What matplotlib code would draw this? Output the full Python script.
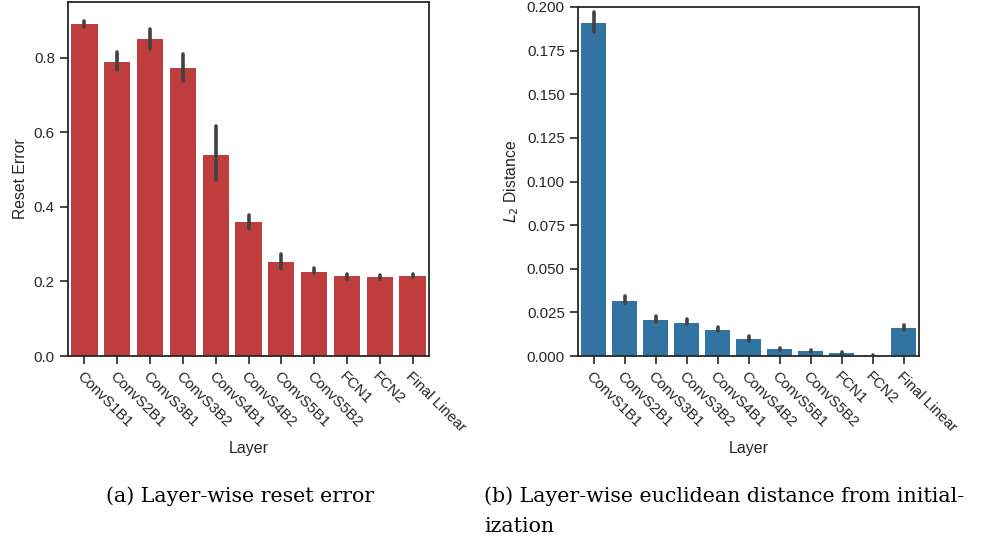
import matplotlib
matplotlib.use("Agg")
import matplotlib.pyplot as plt
import seaborn as sns
import numpy as np

layers = ["ConvS1B1", "ConvS2B1", "ConvS3B1", "ConvS3B2", "ConvS4B1", "ConvS4B2",
          "ConvS5B1", "ConvS5B2", "FCN1", "FCN2", "Final Linear"]

reset_error = [0.890, 0.790, 0.850, 0.772, 0.540, 0.359, 0.252, 0.226, 0.214, 0.212, 0.214]
reset_lo = [0.882, 0.768, 0.825, 0.739, 0.471, 0.342, 0.234, 0.222, 0.207, 0.206, 0.211]
reset_hi = [0.899, 0.817, 0.878, 0.811, 0.616, 0.379, 0.274, 0.237, 0.220, 0.218, 0.221]

l2_dist = [0.1908, 0.0317, 0.0208, 0.0191, 0.0149, 0.0096, 0.0038, 0.0027, 0.0017, 0.0002, 0.0159]
l2_lo = [0.1856, 0.0306, 0.0197, 0.0184, 0.0142, 0.0088, 0.0033, 0.0022, 0.0012, 0.0000, 0.0149]
l2_hi = [0.1973, 0.0344, 0.0231, 0.0210, 0.0165, 0.0117, 0.0047, 0.0035, 0.0024, 0.0008, 0.0178]

sns.set_theme(style="ticks")
plt.rcParams['font.family'] = ['Liberation Sans', 'DejaVu Sans']

fig = plt.figure(figsize=(9.85, 5.42), dpi=100)
W, H = 985, 542
axA = fig.add_axes([68 / W, 1 - 356 / H, (429 - 68) / W, (356 - 2) / H])
axB = fig.add_axes([578 / W, 1 - 356 / H, (919 - 578) / W, (356 - 7) / H])

red = sns.desaturate("tab:red", 0.75)
blue = sns.desaturate("tab:blue", 0.75)


def draw(ax, vals, lo, hi, color, ylabel, ylim, yticks, fmt):
    x = np.arange(len(layers))
    ax.bar(x, vals, width=0.8, color=color, edgecolor='none', zorder=2)
    ax.vlines(x, lo, hi, color="#424242", linewidth=2.6, capstyle='round', zorder=3)
    ax.set_xlim(-0.5, len(layers) - 0.5)
    ax.set_ylim(*ylim)
    ax.set_yticks(yticks)
    ax.set_yticklabels([fmt.format(v) for v in yticks], fontsize=10.8)
    ax.set_xticks(x)
    ax.set_xticklabels(layers, rotation=-45, ha='left', rotation_mode='anchor', fontsize=10.8)
    ax.tick_params(axis='both', length=6, width=1.2, color='#262626', labelcolor='#262626')
    ax.set_xlabel("Layer", fontsize=11.5, color='#262626', labelpad=4.5)
    ax.set_ylabel(ylabel, fontsize=11.3, color='#262626')
    for s in ax.spines.values():
        s.set_linewidth(1.3)
        s.set_color('#262626')


draw(axA, reset_error, reset_lo, reset_hi, red, "Reset Error", (0, 0.95),
     [0.0, 0.2, 0.4, 0.6, 0.8], "{:.1f}")
draw(axB, l2_dist, l2_lo, l2_hi, blue, "$L_2$ Distance", (0, 0.2),
     [0.0, 0.025, 0.05, 0.075, 0.1, 0.125, 0.15, 0.175, 0.2], "{:.3f}")

cap_kw = dict(fontsize=14.8, family=['DejaVu Serif'], color='black', va='center')
fig.text(106 / W, 1 - 496 / H, "(a) Layer-wise reset error", ha='left', **cap_kw)
fig.text(484 / W, 1 - 496 / H, "(b) Layer-wise euclidean distance from initial-", ha='left', **cap_kw)
fig.text(484 / W, 1 - 526 / H, "ization", ha='left', **cap_kw)

fig.savefig("out.png", dpi=100)
